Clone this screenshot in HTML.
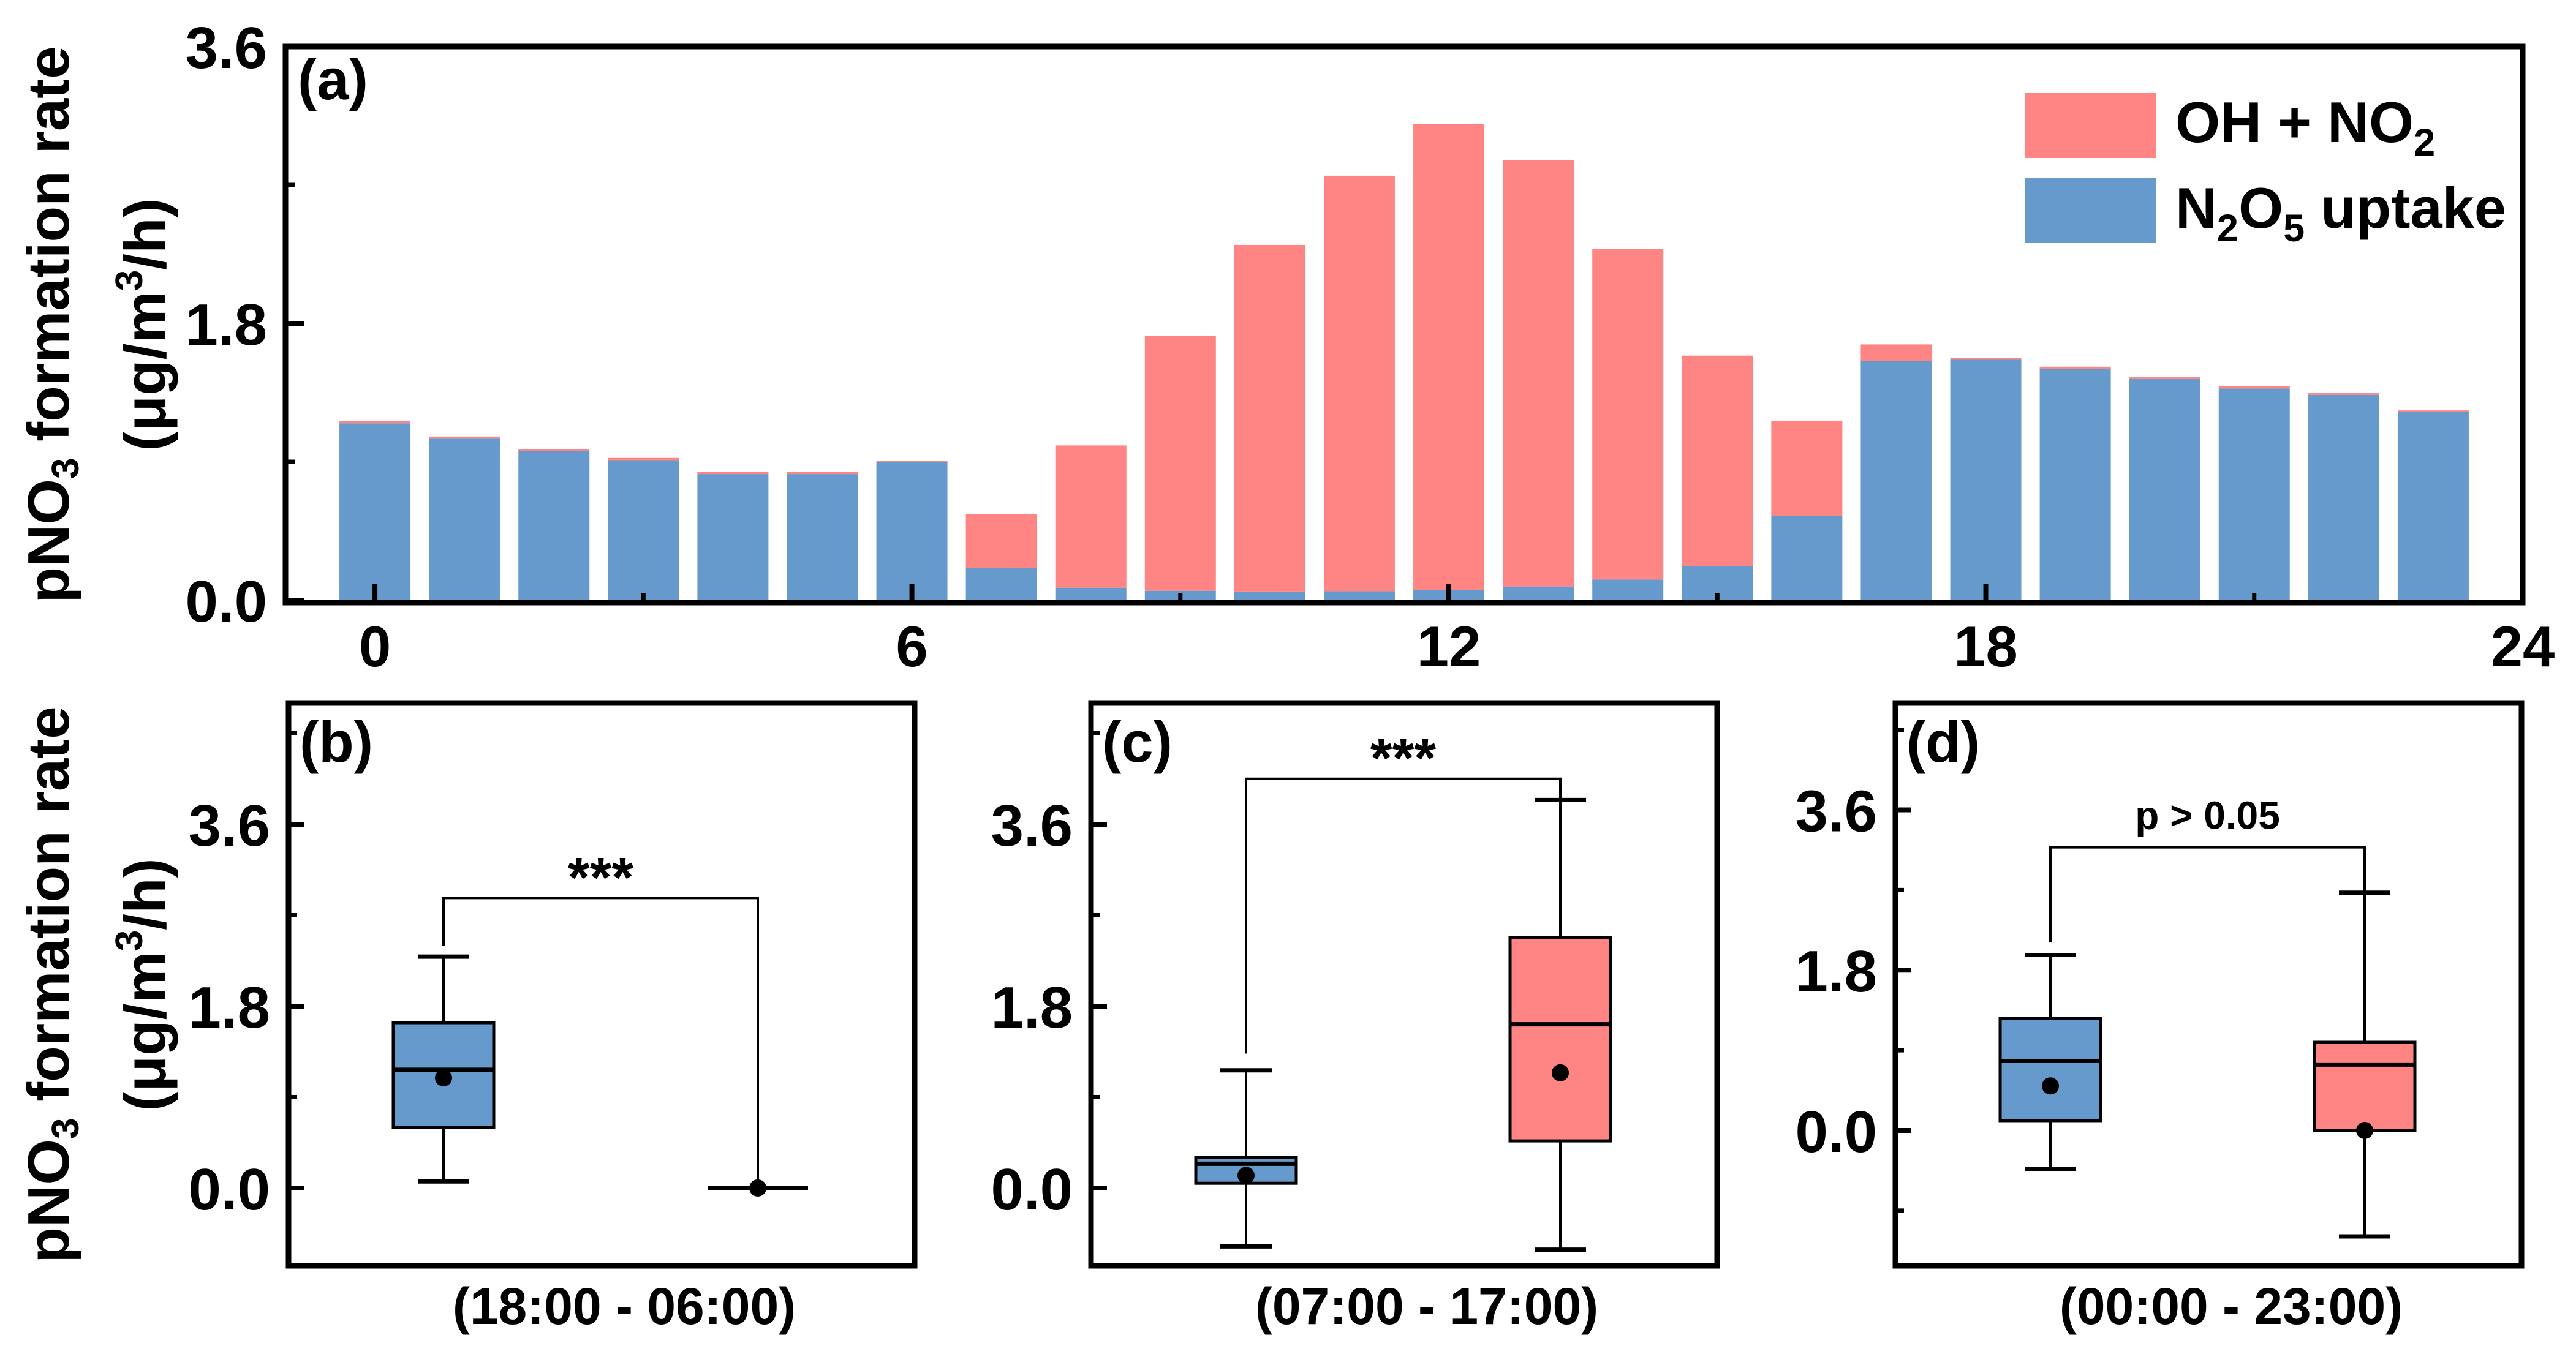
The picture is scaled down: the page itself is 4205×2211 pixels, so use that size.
<!DOCTYPE html>
<html><head><meta charset="utf-8"><style>
html,body{margin:0;padding:0;background:#fff;}
svg{display:block;font-family:"Liberation Sans",Arial,sans-serif;font-weight:bold;}
</style></head><body>
<svg id="chart" xmlns="http://www.w3.org/2000/svg" width="4205" height="2211" viewBox="0 0 4205 2211">
<g id="gA"></g>
<g id="gB"></g>
<g id="gC"></g>
<g id="gD"></g>
<g>
<text transform="translate(112,530) rotate(-90)" text-anchor="middle" font-size="96">pNO<tspan font-size="62" dy="16">3</tspan><tspan dy="-16"> formation rate</tspan></text>
<text transform="translate(270,530) rotate(-90)" text-anchor="middle" font-size="96">(μg/m<tspan font-size="62" dy="-38">3</tspan><tspan dy="38">/h)</tspan></text>
</g>
<g>
<text transform="translate(112,1608) rotate(-90)" text-anchor="middle" font-size="96">pNO<tspan font-size="62" dy="16">3</tspan><tspan dy="-16"> formation rate</tspan></text>
<text transform="translate(270,1608) rotate(-90)" text-anchor="middle" font-size="96">(μg/m<tspan font-size="62" dy="-38">3</tspan><tspan dy="38">/h)</tspan></text>
</g>
<g>
<rect x="3306" y="152" width="213" height="106" fill="#FF8585"/>
<text x="3551" y="232" font-size="94">OH + NO<tspan font-size="63" dy="22">2</tspan></text>
<rect x="3306" y="291" width="213" height="106" fill="#6699CC"/>
<text x="3551" y="372" font-size="94">N<tspan font-size="63" dy="22">2</tspan><tspan dy="-22">O</tspan><tspan font-size="63" dy="22">5</tspan><tspan dy="-22"> uptake</tspan></text>
</g>
</svg>
<script>
const hours = [0,1,2,3,4,5,6,7,8,9,10,11,12,13,14,15,16,17,18,19,20,21,22,23];
const n2o5Values = [1.15,1.05,0.97,0.91,0.82,0.82,0.897,0.209,0.081,0.061,0.056,0.058,0.064,0.089,0.134,0.22,0.546,1.555,1.563,1.505,1.438,1.376,1.335,1.223];
const ohno2Values = [0.017,0.014,0.013,0.015,0.013,0.013,0.011,0.351,0.925,1.659,2.254,2.702,3.031,2.771,2.151,1.37,0.621,0.108,0.014,0.013,0.014,0.014,0.014,0.011];
const topYTicks = ["0.0","1.8","3.6"];
const topXTicks = [0,6,12,18,24];
const groups = ["b","c","d"];
const groupLabels = ["(18:00 - 06:00)","(07:00 - 17:00)","(00:00 - 23:00)"];
// box stats: [lowWhisker, Q1, median, Q3, highWhisker, mean]
const blueStats = [[0.065,0.6,1.17,1.636,2.29,1.09],[-0.578,0.047,0.24,0.30,1.165,0.125],[-0.43,0.11,0.78,1.26,1.97,0.5]];
const redStats = [[0,0,0,0,0,0],[-0.61,0.466,1.62,2.48,3.84,1.14],[-1.19,0,0.74,0.99,2.67,0.0]];
const bracketTop = [2.87,4.05,3.18];
const bracketLeftEnd = [2.4,1.33,2.11];
const bracketRightEnd = [0.07,3.84,2.67];
const sigLabels = ["***","***","p > 0.05"];
const yMins = [-0.77,-0.77,-1.52];
const yMaxs = [4.8,4.8,4.8];
const boxYTicks = ["0.0","1.8","3.6"];

const NS="http://www.w3.org/2000/svg";
function mk(parent,tag,attrs){const e=document.createElementNS(NS,tag);for(const k in attrs)e.setAttribute(k,attrs[k]);parent.appendChild(e);return e;}

// Panel A
(function(){
const g=document.getElementById('gA');
const L=466,R=4118,T=76,B=984;
const x=v=>L+(v+1)/25*(R-L);
const y=v=>980-(v/3.6)*(980-76);
const bw=116;
hours.forEach((h,i)=>{
  const b=mk(g,'rect',{x:x(h)-bw/2,y:y(n2o5Values[i]),width:bw,height:y(0)-y(n2o5Values[i]),fill:'#6699CC'});
  
  
  const tot=n2o5Values[i]+ohno2Values[i];
  const r=mk(g,'rect',{x:x(h)-bw/2,y:y(tot),width:bw,height:y(n2o5Values[i])-y(tot),fill:'#FF8585'});
  
  
});
const f=mk(g,'rect',{x:L,y:T,width:R-L,height:B-T,fill:'none',stroke:'#000','stroke-width':9});


topYTicks.forEach(t=>{const v=parseFloat(t);
  mk(g,'line',{x1:L,x2:L+30,y1:y(v),y2:y(v),stroke:'#000','stroke-width':8});
  const tx=mk(g,'text',{x:436,y:y(v)+35,'text-anchor':'end','font-size':96});tx.textContent=t;
  
  
});
[0.9,2.7].forEach(v=>mk(g,'line',{x1:L,x2:L+16,y1:y(v),y2:y(v),stroke:'#000','stroke-width':7}));
topXTicks.forEach(h=>{
  mk(g,'line',{x1:x(h),x2:x(h),y1:B,y2:B-30,stroke:'#000','stroke-width':8});
  const tx=mk(g,'text',{x:x(h),y:1088,'text-anchor':'middle','font-size':94});tx.textContent=h;
  
  
});
[3,9,15,21].forEach(h=>mk(g,'line',{x1:x(h),x2:x(h),y1:B,y2:B-16,stroke:'#000','stroke-width':7}));
const lab=mk(g,'text',{x:486,y:162,'font-size':94});lab.textContent='(a)';


})();

// Box panels
const panelLefts=[471,1781,3094];
groups.forEach((gn,k)=>{
  const g=document.getElementById('g'+gn.toUpperCase());
  const L=panelLefts[k],R=L+1022,T=1148,B=2067;
  const y=v=>B-(v-yMins[k])/(yMaxs[k]-yMins[k])*(B-T);
  const cx=[L+253,L+766];
  const f=mk(g,'rect',{x:L,y:T,width:R-L,height:B-T,fill:'none',stroke:'#000','stroke-width':9});
  
  
  boxYTicks.forEach(t=>{const v=parseFloat(t);
    mk(g,'line',{x1:L,x2:L+26,y1:y(v),y2:y(v),stroke:'#000','stroke-width':8});
    const tx=mk(g,'text',{x:L-30,y:y(v)+35,'text-anchor':'end','font-size':96});tx.textContent=t;
    
    
  });
  [-0.9,0.9,2.7,4.5].forEach(v=>{if(v>yMins[k]&&v<yMaxs[k])mk(g,'line',{x1:L,x2:L+14,y1:y(v),y2:y(v),stroke:'#000','stroke-width':7});});
  const lab=mk(g,'text',{x:L+18,y:T+96,'font-size':94});lab.textContent='('+gn+')';
  
  
  const xl=mk(g,'text',{x:L+548,y:2162,'text-anchor':'middle','font-size':84});xl.textContent=groupLabels[k];
  
  
  [blueStats[k],redStats[k]].forEach((s,j)=>{
    const c=cx[j],bw=164,col=j?'#FF8585':'#6699CC';
    const bg=mk(g,'g',{});
    
    
    mk(bg,'line',{x1:c,x2:c,y1:y(s[0]),y2:y(s[4]),stroke:'#000','stroke-width':4});
    mk(bg,'line',{x1:c-42,x2:c+42,y1:y(s[0]),y2:y(s[0]),stroke:'#000','stroke-width':7});
    mk(bg,'line',{x1:c-42,x2:c+42,y1:y(s[4]),y2:y(s[4]),stroke:'#000','stroke-width':7});
    mk(bg,'rect',{x:c-bw/2,y:y(s[3]),width:bw,height:Math.max(0,y(s[1])-y(s[3])),fill:col,stroke:'#000','stroke-width':5});
    mk(bg,'line',{x1:c-bw/2,x2:c+bw/2,y1:y(s[2]),y2:y(s[2]),stroke:'#000','stroke-width':7});
    mk(bg,'circle',{cx:c,cy:y(s[5]),r:14,fill:'#000'});
  });
  const br=mk(g,'polyline',{points:`${cx[0]},${y(bracketLeftEnd[k])} ${cx[0]},${y(bracketTop[k])} ${cx[1]},${y(bracketTop[k])} ${cx[1]},${y(bracketRightEnd[k])}`,fill:'none',stroke:'#000','stroke-width':4});
  
  
  const st=mk(g,'text',{x:(cx[0]+cx[1])/2,y:y(bracketTop[k])-(k==2?30:2),'text-anchor':'middle','font-size':k==2?64:92});st.textContent=sigLabels[k];
  
  
});
</script>
</body></html>
